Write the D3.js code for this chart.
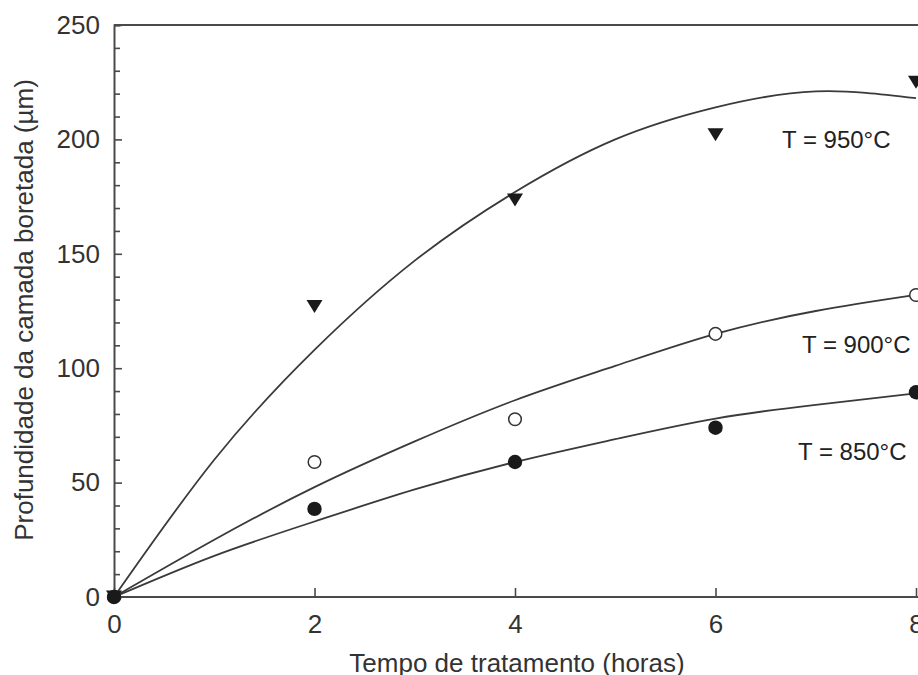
<!DOCTYPE html>
<html>
<head>
<meta charset="utf-8">
<script src="https://cdn.jsdelivr.net/npm/d3@7"></script>
<style>
  html, body { margin: 0; padding: 0; background: #fff; overflow: hidden; }
  svg { display: block; }
  text { font-family: "Liberation Sans", Arial, sans-serif; }
</style>
</head>
<body>
<svg id="chart" width="918" height="675"></svg>
<script>
// ---- data ----
const times = [0, 2, 4, 6, 8];
const depth950 = [0, 127, 173.5, 202, 225];
const depth900 = [0, 59, 77.7, 115, 132];
const depth850 = [0, 38.5, 59, 74, 89.5];

// fitted curves at each hour
const fitTimes = [0, 1, 2, 3, 4, 5, 6, 7, 8];
const fit950 = [0, 60, 108, 147, 177, 200, 214, 221, 218];
const fit900 = [0, 25, 48, 68, 86, 101, 115, 125, 132];
const fit850 = [0, 18, 33, 47, 59, 69, 78, 84, 89];

const xTicks = [0, 2, 4, 6, 8];
const yTicks = d3.range(0, 251, 10);
const yLabelStep = 50;
const labels = ["T = 950°C", "T = 900°C", "T = 850°C"];
const xTitle = "Tempo de tratamento (horas)";
const yTitle = "Profundidade da camada boretada (µm)";

// ---- layout ----
const svg = d3.select("#chart");
const mLeft = 114, mRight = 916, mTop = 25, mBottom = 597;
const x = d3.scaleLinear().domain([0, 8]).range([mLeft, mRight]);
const y = d3.scaleLinear().domain([0, 250]).range([mBottom, mTop]);

const axisColor = "#4a4a4a";
const textColor = "#333";

// top frame line
svg.append("line")
  .attr("x1", mLeft).attr("x2", 918)
  .attr("y1", y(250)).attr("y2", y(250))
  .attr("stroke", axisColor).attr("stroke-width", 2);

// Y axis
const yAxis = svg.append("g")
  .attr("transform", `translate(${mLeft},0)`)
  .call(d3.axisLeft(y).tickValues(yTicks).tickSize(-6).tickPadding(14)
    .tickFormat(d => d % yLabelStep === 0 ? d : ""));
yAxis.select(".domain").attr("stroke", axisColor).attr("stroke-width", 2);
yAxis.selectAll(".tick line").attr("stroke", axisColor).attr("stroke-width", 1.6)
  .attr("x2", d => d % yLabelStep === 0 ? 8 : 6);
yAxis.selectAll(".tick text")
  .attr("fill", textColor).style("font-size", "26px")
  .style("font-family", '"Liberation Sans", Arial, sans-serif');

// X axis
const xAxis = svg.append("g")
  .attr("transform", `translate(0,${mBottom})`)
  .call(d3.axisBottom(x).tickValues(xTicks).tickSize(-9).tickPadding(17.5).tickFormat(d3.format("d")));
xAxis.select(".domain").attr("stroke", axisColor).attr("stroke-width", 2)
  .attr("d", `M${mLeft},0H918`);
xAxis.selectAll(".tick line").attr("stroke", axisColor).attr("stroke-width", 1.6);
xAxis.selectAll(".tick text")
  .attr("fill", textColor).style("font-size", "26px")
  .style("font-family", '"Liberation Sans", Arial, sans-serif');

// axis titles
svg.append("text")
  .attr("x", 517).attr("y", 672)
  .attr("text-anchor", "middle")
  .attr("fill", textColor).style("font-size", "26px")
  .text(xTitle);
svg.append("text")
  .attr("transform", "translate(33,310) rotate(-90)")
  .attr("text-anchor", "middle")
  .attr("fill", textColor).style("font-size", "26px")
  .text(yTitle);

// fitted curves
const line = d3.line()
  .x((d, i) => x(fitTimes[i]))
  .y(d => y(d))
  .curve(d3.curveNatural);
[fit950, fit900, fit850].forEach(f => {
  svg.append("path")
    .attr("d", line(f))
    .attr("fill", "none")
    .attr("stroke", "#3a3a3a")
    .attr("stroke-width", 1.8);
});

// markers
const markerFill = "#1a1a1a";
// T = 950: downward triangles
const tri = (cx, cy) => {
  const w = 8, h = 13;
  return `M${cx - w},${cy - h / 2}L${cx + w},${cy - h / 2}L${cx},${cy + h / 2}Z`;
};
svg.append("g").selectAll("path")
  .data(depth950)
  .join("path")
  .attr("d", (d, i) => tri(x(times[i]), y(d)))
  .attr("fill", markerFill);

// T = 900: open circles
svg.append("g").selectAll("circle")
  .data(depth900)
  .join("circle")
  .attr("cx", (d, i) => x(times[i]))
  .attr("cy", d => y(d))
  .attr("r", 6.3)
  .attr("fill", "#fff")
  .attr("stroke", "#333")
  .attr("stroke-width", 1.5);

// T = 850: filled circles
svg.append("g").selectAll("circle")
  .data(depth850)
  .join("circle")
  .attr("cx", (d, i) => x(times[i]))
  .attr("cy", d => y(d))
  .attr("r", 7.2)
  .attr("fill", markerFill);

// series annotations
const labelPos = [[782, 148], [802, 353], [798, 460]];
svg.append("g").selectAll("text")
  .data(labels)
  .join("text")
  .attr("x", (d, i) => labelPos[i][0])
  .attr("y", (d, i) => labelPos[i][1])
  .attr("fill", "#222")
  .style("font-size", "24px")
  .text(d => d);
</script>
</body>
</html>
